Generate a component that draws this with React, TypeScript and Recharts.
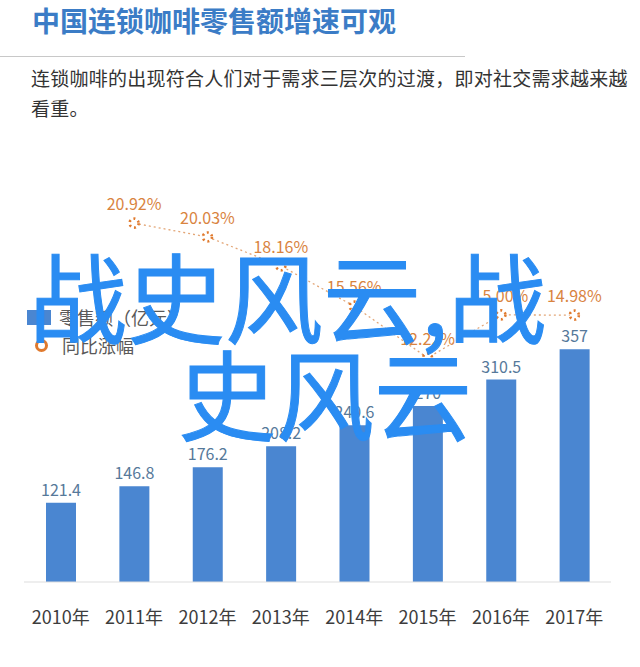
import { ComposedChart, Bar, Line, XAxis, YAxis, LabelList, Legend } from "recharts";

const years = ["2010年", "2011年", "2012年", "2013年", "2014年", "2015年", "2016年", "2017年"];
const sales = [121.4, 146.8, 176.2, 208.2, 240.6, 270.0, 310.5, 357];
const growth = [null, 20.92, 20.03, 18.16, 15.56, 12.22, 15.0, 14.98];

const data = years.map((year, i) => ({ year, sales: sales[i], growth: growth[i] }));

const FONT = '"Noto Sans CJK SC", "Noto Sans", sans-serif';

const C = {
  title: "#3b7cc6",
  text: "#333333",
  bar: "#4a86d1",
  barLabel: "#56799a",
  orange: "#e07a2e",
  orangeLabel: "#d9843f",
  dotted: "#e3a677",
  axis: "#dddddd",
  legend: "#595959",
  overlay: "#2a8cf2",
};

function LegendBox() {
  return (
    <div style={{ fontFamily: FONT, fontSize: 18, color: C.legend, lineHeight: "28px" }}>
      <div style={{ display: "flex", alignItems: "center" }}>
        <span style={{ display: "inline-block", width: 24, height: 15, background: C.bar, marginRight: 8 }} />
        零售额（亿元）
      </div>
      <div style={{ display: "flex", alignItems: "center" }}>
        <span
          style={{
            display: "inline-block",
            width: 7,
            height: 7,
            borderRadius: "50%",
            border: `3px solid ${C.orange}`,
            margin: "0 14px 0 8px",
          }}
        />
        同比涨幅
      </div>
    </div>
  );
}

const overlayStyle = {
  position: "absolute" as const,
  fontFamily: FONT,
  fontSize: 98,
  lineHeight: "98px",
  color: C.overlay,
  WebkitTextStroke: `1px ${C.overlay}`,
  whiteSpace: "nowrap" as const,
  pointerEvents: "none" as const,
};

export default function App() {
  return (
    <div style={{ position: "absolute", left: 0, top: 0, width: 640, height: 667, background: "#fff", overflow: "hidden" }}>
      <div style={{ position: "absolute", left: 32, top: 6, fontFamily: FONT, fontWeight: 700, fontSize: 28, lineHeight: "28px", color: C.title, whiteSpace: "nowrap" }}>
        中国连锁咖啡零售额增速可观
      </div>
      <div style={{ position: "absolute", left: 0, top: 56, width: 465, height: 1, background: "#c8c8c8" }} />
      <div style={{ position: "absolute", left: 31, top: 63, fontFamily: FONT, fontSize: 19, letterSpacing: 0.25, lineHeight: "30px", color: C.text, whiteSpace: "nowrap" }}>
        连锁咖啡的出现符合人们对于需求三层次的过渡，即对社交需求越来越
        <br />
        看重。
      </div>

      <div style={{ position: "absolute", left: 0, top: 0 }}>
        <ComposedChart width={640} height={667} data={data} margin={{ top: 129, right: 29, left: 24, bottom: 45 }}>
          <XAxis
            dataKey="year"
            height={40}
            axisLine={{ stroke: C.axis }}
            tickLine={false}
            tickMargin={23}
            interval={0}
            tick={{ fill: "#3d3d3d", fontSize: 18, fontFamily: FONT }}
          />
          <YAxis yAxisId="sales" domain={[0, 695]} hide />
          <YAxis yAxisId="pct" orientation="right" domain={[-2.25, 27]} hide />
          <Legend
            layout="vertical"
            align="center"
            verticalAlign="middle"
            content={<LegendBox />}
            wrapperStyle={{ left: 27, top: 303, width: "auto" }}
          />
          <Bar yAxisId="sales" dataKey="sales" fill={C.bar} barSize={30} isAnimationActive={false}>
            <LabelList dataKey="sales" position="top" offset={7} fill={C.barLabel} fontSize={16} fontFamily={FONT} />
          </Bar>
          <Line
            yAxisId="pct"
            dataKey="growth"
            stroke={C.dotted}
            strokeWidth={1.3}
            strokeDasharray="2 3"
            dot={{ r: 4.5, stroke: C.orange, strokeWidth: 2.6, fill: "#fff" }}
            isAnimationActive={false}
          >
            <LabelList
              dataKey="growth"
              position="top"
              offset={13}
              fill={C.orangeLabel}
              fontSize={16}
              fontFamily={FONT}
              formatter={(v: number) => (v == null ? "" : `${v.toFixed(2)}%`)}
            />
          </Line>
        </ComposedChart>
      </div>

      <div style={{ ...overlayStyle, left: 29, top: 244 }}>战史风云,战</div>
      <div style={{ ...overlayStyle, left: 178, top: 341 }}>史风云</div>
    </div>
  );
}
